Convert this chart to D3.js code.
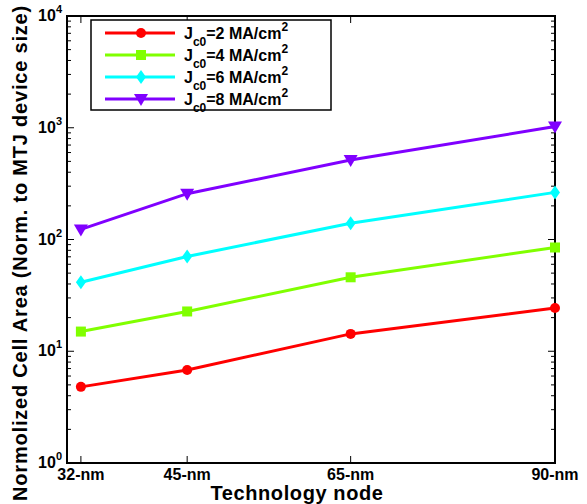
<!DOCTYPE html>
<html>
<head>
<meta charset="utf-8">
<script src="https://cdn.jsdelivr.net/npm/d3@7"></script>
<style>
  body { margin: 0; background: #fff; }
  text { font-family: "Liberation Sans", Arial, sans-serif; font-weight: bold; }
</style>
</head>
<body>
<div id="chart"></div>
<script>
const nodes = [32, 45, 65, 90];
const nodeLabels = ["32-nm", "45-nm", "65-nm", "90-nm"];
const seriesNames = ["2", "4", "6", "8"];
const seriesColors = ["#ff0000", "#80ff00", "#00ffff", "#8000ff"];
const seriesSymbols = ["circle", "square", "diamond", "triangle"];
const jc2 = [4.8, 6.8, 14.3, 24.4];
const jc4 = [15.0, 22.7, 45.9, 84.8];
const jc6 = [41.4, 70.4, 140, 264];
const jc8 = [123, 257, 514, 1025];
const seriesValues = [jc2, jc4, jc6, jc8];
const yTicks = [1, 10, 100, 1000, 10000];

const width = 587, height = 504;
const margin = { top: 16, right: 32, bottom: 41, left: 67 };
const innerW = width - margin.left - margin.right;
const innerH = height - margin.top - margin.bottom;

const svg = d3.select("#chart").append("svg")
    .attr("width", width)
    .attr("height", height);

const g = svg.append("g")
    .attr("transform", `translate(${margin.left},${margin.top})`);

const x = d3.scaleLinear().domain([30.3, 90]).range([0, innerW]);
const y = d3.scaleLog().domain([1, 10000]).range([innerH, 0]);

// minor ticks on log axis
const minor = [];
for (let d = 1; d < 10000; d *= 10) {
    for (let k = 2; k <= 9; k++) minor.push(d * k);
}

const tickG = g.append("g").attr("stroke", "#000").attr("stroke-width", 1);
minor.forEach(v => {
    tickG.append("line").attr("x1", 0).attr("x2", 4).attr("y1", y(v)).attr("y2", y(v));
    tickG.append("line").attr("x1", innerW).attr("x2", innerW - 4).attr("y1", y(v)).attr("y2", y(v));
});
yTicks.forEach(v => {
    tickG.append("line").attr("x1", 0).attr("x2", 7).attr("y1", y(v)).attr("y2", y(v));
    tickG.append("line").attr("x1", innerW).attr("x2", innerW - 7).attr("y1", y(v)).attr("y2", y(v));
});
nodes.forEach(n => {
    tickG.append("line").attr("x1", x(n)).attr("x2", x(n)).attr("y1", innerH).attr("y2", innerH - 7);
    tickG.append("line").attr("x1", x(n)).attr("x2", x(n)).attr("y1", 0).attr("y2", 7);
});

// frame
g.append("rect")
    .attr("width", innerW)
    .attr("height", innerH)
    .attr("fill", "none")
    .attr("stroke", "#000")
    .attr("stroke-width", 2);

// y tick labels
yTicks.forEach(v => {
    const t = g.append("text")
        .attr("x", -5)
        .attr("y", y(v) + 5)
        .attr("text-anchor", "end")
        .style("font-size", "16px");
    t.append("tspan").text("10");
    t.append("tspan")
        .attr("dy", -8)
        .style("font-size", "11px")
        .text(Math.round(Math.log10(v)));
});

// x tick labels
nodes.forEach((n, i) => {
    g.append("text")
        .attr("x", x(n))
        .attr("y", innerH + 17)
        .attr("text-anchor", "middle")
        .style("font-size", "16px")
        .text(nodeLabels[i]);
});

g.append("text")
    .attr("x", innerW / 2 - 14)
    .attr("y", innerH + 37)
    .attr("text-anchor", "middle")
    .style("font-size", "20px")
    .style("letter-spacing", "0.6px")
    .text("Technology node");

g.append("text")
    .attr("transform", "rotate(-90)")
    .attr("x", -237)
    .attr("y", -40)
    .attr("text-anchor", "middle")
    .style("font-size", "20px")
    .style("letter-spacing", "0.8px")
    .text("Normolized Cell Area (Norm. to MTJ device size)");

const line = d3.line()
    .x((d, i) => x(nodes[i]))
    .y(d => y(d));

function marker(sel, sym, color) {
    if (sym === "circle") {
        sel.append("circle").attr("r", 5).attr("fill", color);
    } else if (sym === "square") {
        sel.append("rect").attr("x", -5).attr("y", -5).attr("width", 10).attr("height", 10).attr("fill", color);
    } else if (sym === "diamond") {
        sel.append("path").attr("d", "M0,-7L5,0L0,7L-5,0Z").attr("fill", color);
    } else {
        sel.append("path").attr("d", "M-7,-5L7,-5L0,7Z").attr("fill", color);
    }
}

seriesValues.forEach((vals, s) => {
    g.append("path")
        .datum(vals)
        .attr("d", line)
        .attr("fill", "none")
        .attr("stroke", seriesColors[s])
        .attr("stroke-width", 3);
    vals.forEach((v, i) => {
        const m = g.append("g").attr("transform", `translate(${x(nodes[i])},${y(v)})`);
        marker(m, seriesSymbols[s], seriesColors[s]);
    });
});

// legend
const legend = svg.append("g").attr("transform", "translate(91,20)");
legend.append("rect")
    .attr("width", 240)
    .attr("height", 90)
    .attr("fill", "#fff")
    .attr("stroke", "#000")
    .attr("stroke-width", 1.5);

seriesNames.forEach((name, i) => {
    const ly = 13 + i * 22;
    legend.append("line")
        .attr("x1", 14).attr("x2", 84)
        .attr("y1", ly).attr("y2", ly)
        .attr("stroke", seriesColors[i])
        .attr("stroke-width", 3);
    const m = legend.append("g").attr("transform", `translate(50,${ly})`);
    marker(m, seriesSymbols[i], seriesColors[i]);
    const t = legend.append("text")
        .attr("x", 93)
        .attr("y", ly + 6)
        .style("font-size", "16px");
    t.append("tspan").text("J");
    t.append("tspan").attr("dy", 7).style("font-size", "12px").text("c0");
    t.append("tspan").attr("dy", -7).text(`=${name} MA/cm`);
    t.append("tspan").attr("dy", -8).style("font-size", "12px").text("2");
});
</script>
</body>
</html>
